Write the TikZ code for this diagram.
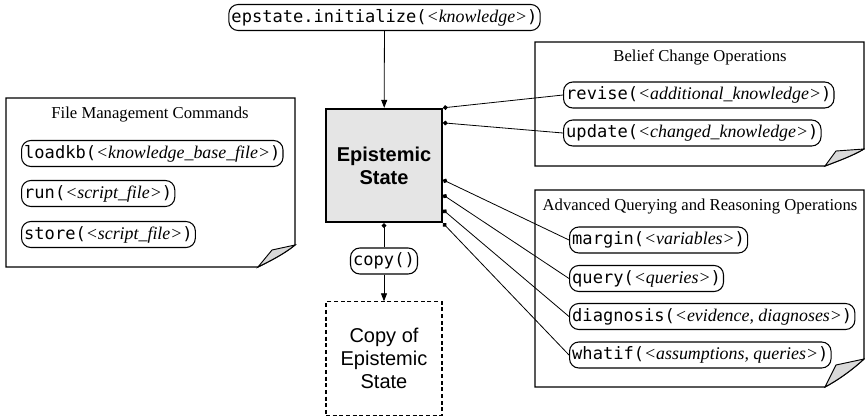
\documentclass[tikz,border=0pt]{standalone}
\usepackage{fontspec}
\setmainfont{Liberation Serif}
\setsansfont{Liberation Sans}
\setmonofont{DejaVu Sans Mono}
\usetikzlibrary{arrows.meta,calc}
\newcommand{\cmdarg}[1]{{\fontsize{13.4}{15}\rmfamily\itshape <#1>}}

\begin{document}
\begin{tikzpicture}[x=0.75pt,y=-0.75pt,
    cmd/.style={draw,line width=0.8pt,rounded corners=7pt,inner xsep=2pt,inner ysep=0pt,
                minimum height=19.5pt,font=\fontsize{12.8}{14}\ttfamily},
    title/.style={font=\fontsize{12.5}{14}\rmfamily},
    note/.style={draw,fill=white,line width=0.9pt},
    flap/.style={draw,line width=0.7pt,fill=gray!30},
    state/.style={minimum width=87pt,minimum height=85pt,align=center},
    link/.style={{Circle[length=3.5pt]}-,line width=0.6pt},
    flow/.style={-{Triangle[length=6pt,width=4.5pt]},line width=0.6pt}]
  \useasboundingbox (0,0) rectangle (865,419);
  % note sheets
  \draw[note] (6,98) -- (295,98) -- (295,245)
        .. controls (284,254) and (270,261) .. (258,267) -- (6,267) -- cycle;
  \draw[flap] (258,267) .. controls (270,261) and (284,254) .. (295,245) -- (272,250) -- cycle;
  \draw[note] (535,42) -- (864,42) -- (864,149)
        .. controls (852,156) and (838,161) .. (825,166) -- (535,166) -- cycle;
  \draw[flap] (825,166) .. controls (838,161) and (852,156) .. (864,149) -- (836,151) -- cycle;
  \draw[note] (535,190) -- (864,190) -- (864,359)
        .. controls (852,370) and (838,380) .. (825,387) -- (535,387) -- cycle;
  \draw[flap] (825,387) .. controls (838,380) and (852,370) .. (864,359) -- (836,365) -- cycle;
  \node[title] (fmtitle) at (150,115) {File Management Commands};
  \node[title] (bctitle) at (700,57)  {Belief Change Operations};
  \node[title] (aqtitle) at (700,207) {Advanced Querying and Reasoning Operations};
  % epistemic state
  \node[cmd]  (init)  at (384.5,17.5) {epstate.initialize(\cmdarg{knowledge})};
  \node[state,draw,line width=1.5pt,fill=gray!20,font=\fontsize{15}{17.25}\sffamily\bfseries]
              (es)    at (384,165.5) {Epistemic\\State};
  \node[cmd]  (copy)  at (384,261) {copy()};
  \node[state,draw,densely dashed,line width=0.8pt,font=\fontsize{15}{17}\sffamily]
              (copyes) at (384,358.5) {Copy of\\Epistemic\\State};
  % commands
  \node[cmd,anchor=west] (loadkb)    at (21,153.5)  {loadkb(\cmdarg{knowledge\_base\_file})};
  \node[cmd,anchor=west] (run)       at (21,193.5)  {run(\cmdarg{script\_file})};
  \node[cmd,anchor=west] (store)     at (21,234.5)  {store(\cmdarg{script\_file})};
  \node[cmd,anchor=west] (revise)    at (563,95)    {revise(\cmdarg{additional\_knowledge})};
  \node[cmd,anchor=west] (update)    at (563,133)   {update(\cmdarg{changed\_knowledge})};
  \node[cmd,anchor=west] (margin)    at (569,240)   {margin(\cmdarg{variables})};
  \node[cmd,anchor=west] (query)     at (569,278.5) {query(\cmdarg{queries})};
  \node[cmd,anchor=west] (diagnosis) at (569,316.5) {diagnosis(\cmdarg{evidence, diagnoses})};
  \node[cmd,anchor=west] (whatif)    at (569,355)   {whatif(\cmdarg{assumptions, queries})};
  % connectors
  \coordinate (e1) at (es.north east);
  \coordinate (e2) at ($(es.north east)+(0,15)$);
  \coordinate (e3) at ($(es.north east)+(0,72)$);
  \coordinate (e4) at ($(es.north east)+(0,87)$);
  \coordinate (e5) at ($(es.north east)+(0,102)$);
  \coordinate (e6) at (es.south east);
  \draw[flow] (init) -- (es);
  \draw[link] (es.south) -- (copy);
  \draw[flow] (copy) -- (copyes);
  \draw[link] (e1) -- (revise.west);
  \draw[link] (e2) -- (update.west);
  \draw[link] (e3) -- (margin.west);
  \draw[link] (e4) -- (query.west);
  \draw[link] (e5) -- (diagnosis.west);
  \draw[link] (e6) -- (whatif.west);
\end{tikzpicture}
\end{document}
